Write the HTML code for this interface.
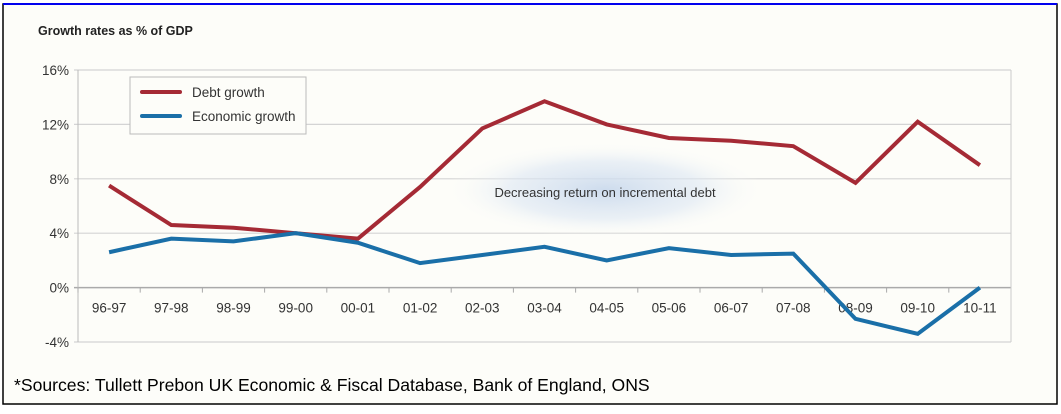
<!DOCTYPE html>
<html><head><meta charset="utf-8"><style>
body{margin:0;width:1061px;height:409px;background:#fff;font-family:"Liberation Sans",sans-serif;overflow:hidden}
</style></head><body>
<svg width="1061" height="409">
<defs><radialGradient id="glow" cx="50%" cy="50%" r="50%">
<stop offset="0%" stop-color="#c8d8ec" stop-opacity="0.9"/><stop offset="60%" stop-color="#dde7f3" stop-opacity="0.6"/><stop offset="100%" stop-color="#fdfdf9" stop-opacity="0"/></radialGradient></defs>
<rect x="3" y="4" width="1054" height="400" fill="#fdfdf9" stroke="#000" stroke-width="1.5"/>
<line x1="3" y1="4" x2="1057" y2="4" stroke="#0000ee" stroke-width="2"/>
<text x="38" y="35" font-size="12.5" font-weight="bold" fill="#222">Growth rates as % of GDP</text>
<g id="grid"></g>
<ellipse cx="605" cy="190" rx="160" ry="48" fill="url(#glow)"/>
<text x="605" y="197" font-size="13" fill="#333" text-anchor="middle">Decreasing return on incremental debt</text>
<g id="series"></g>
<g>
<rect x="130" y="77" width="176" height="57" fill="#fdfdf9" stroke="#bbb"/>
<line x1="142" y1="92" x2="180" y2="92" stroke="#a52a35" stroke-width="4" stroke-linecap="round"/>
<text x="192" y="97" font-size="13.5" fill="#333">Debt growth</text>
<line x1="142" y1="116" x2="180" y2="116" stroke="#1a6fa8" stroke-width="4" stroke-linecap="round"/>
<text x="192" y="121" font-size="13.5" fill="#333">Economic growth</text>
</g>
<text x="14" y="391" font-size="17.6" fill="#000">*Sources: Tullett Prebon UK Economic &amp; Fiscal Database, Bank of England, ONS</text>
</svg>
<script>
const categories=["96-97","97-98","98-99","99-00","00-01","01-02","02-03","03-04","04-05","05-06","06-07","07-08","08-09","09-10","10-11"];
const debtGrowth=[7.5,4.6,4.4,4.0,3.6,7.4,11.7,13.7,12.0,11.0,10.8,10.4,7.7,12.2,9.0];
const economicGrowth=[2.6,3.6,3.4,4.0,3.3,1.8,2.4,3.0,2.0,2.9,2.4,2.5,-2.3,-3.4,0.0];
const yTicks=[16,12,8,4,0,-4];
const NS="http://www.w3.org/2000/svg";
const L=78,R=1011,yTop=70,yBot=342,vMax=16,vMin=-4;
const bw=(R-L)/categories.length;
const xs=i=>L+bw*(i+0.5);
const ys=v=>yTop+(vMax-v)/(vMax-vMin)*(yBot-yTop);
function mk(t,a,p){const e=document.createElementNS(NS,t);for(const k in a)e.setAttribute(k,a[k]);p.appendChild(e);return e;}
const g=document.getElementById('grid');
yTicks.forEach(v=>{
 const ln=mk('line',{x1:L-4,x2:R,y1:ys(v),y2:ys(v),stroke:v===0?'#aaa':'#d4d4d4','stroke-width':v===0?1.5:1.2},g);
 
 
 const t=mk('text',{x:L-9,y:ys(v)+5,'font-size':13.5,fill:'#333','text-anchor':'end'},g);t.textContent=v+'%';
 
 
});
mk('line',{x1:L,x2:L,y1:yTop,y2:yBot,stroke:'#bbb'},g);
mk('line',{x1:R,x2:R,y1:yTop,y2:yBot,stroke:'#ccc'},g);
categories.forEach((c,i)=>{
 mk('line',{x1:L+bw*i,x2:L+bw*i,y1:ys(0),y2:ys(0)+5,stroke:'#aaa'},g);
 const t=mk('text',{x:xs(i),y:ys(0)+25,'font-size':13.5,fill:'#333','text-anchor':'middle'},g);t.textContent=c;
 
 
});
const s=document.getElementById('series');
[[debtGrowth,'#a52a35','debt-growth-line'],[economicGrowth,'#1a6fa8','economic-growth-line']].forEach(([d,c,n])=>{
 const p=mk('polyline',{points:d.map((v,i)=>xs(i)+','+ys(v)).join(' '),fill:'none',stroke:c,'stroke-width':4,'stroke-linejoin':'miter'},s);
 
 
});
</script>
</body></html>
